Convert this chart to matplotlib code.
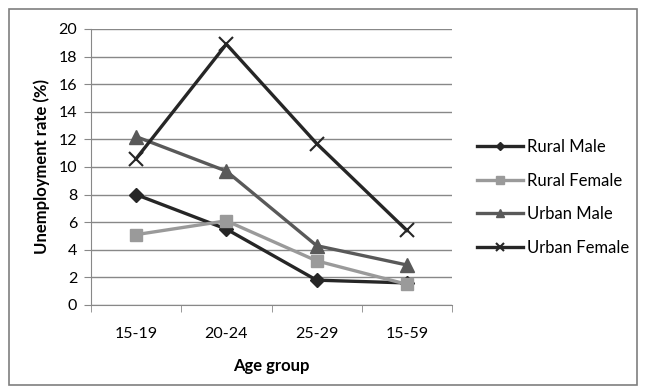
import numpy as np
import matplotlib.pyplot as plt
from matplotlib.patches import Rectangle

age_groups = ['15-19', '20-24', '25-29', '15-59']
rural_male = [8.0, 5.5, 1.8, 1.6]
rural_female = [5.1, 6.1, 3.2, 1.5]
urban_male = [12.2, 9.7, 4.3, 2.9]
urban_female = [10.6, 18.9, 11.7, 5.4]

plt.rcParams['font.family'] = ['Lato', 'DejaVu Sans']

fig = plt.figure(figsize=(6.5, 3.89), dpi=100)
ax = fig.add_axes([91 / 650, 1 - 305 / 389, (452 - 91) / 650, (305 - 29) / 389])

# outer chart frame
fig.patches.append(Rectangle((9 / 650, 4 / 389), 628 / 650, 376 / 389,
                             transform=fig.transFigure, fill=False,
                             edgecolor='#7f7f7f', linewidth=1.2))

x = np.arange(len(age_groups))
ax.plot(x, rural_male, color='#262626', lw=2.4, marker='D', ms=7, label='Rural Male')
ax.plot(x, rural_female, color='#9a9a9a', lw=2.4, marker='s', ms=9, label='Rural Female')
ax.plot(x, urban_male, color='#595959', lw=2.4, marker='^', ms=10, label='Urban Male')
ax.plot(x, urban_female, color='#262626', lw=2.4, marker='x', ms=10, mew=1.5, label='Urban Female')

ax.set_xlim(-0.5, 3.5)
ax.set_ylim(0, 20)
ax.set_yticks(np.arange(0, 21, 2))
ax.set_xticks(x)
ax.set_xticklabels(age_groups)
ax.set_xticks(np.arange(-0.5, 4, 1), minor=True)
ax.tick_params(axis='x', which='major', length=0, pad=16, labelsize=11.5)
ax.tick_params(axis='x', which='minor', length=5, color='#888888')
ax.tick_params(axis='y', length=5, color='#888888', labelsize=11.5, pad=5)
ax.grid(axis='y', color='#888888', lw=1)
ax.set_axisbelow(True)
for s in ['top', 'right']:
    ax.spines[s].set_visible(False)
ax.spines['left'].set_color('#888888')
ax.spines['bottom'].set_color('#888888')

ax.set_xlabel('Age group', fontweight='bold', fontsize=12, labelpad=12)
ax.set_ylabel('Unemployment rate (%)', fontweight='bold', fontsize=12, labelpad=6)

ax.legend(loc='center left', bbox_to_anchor=(1.05, 0.39), frameon=False,
          borderaxespad=0, fontsize=12, handlelength=2.8, labelspacing=1.05,
          handletextpad=0.2, markerscale=0.6)

fig.savefig('out.png', dpi=100)
